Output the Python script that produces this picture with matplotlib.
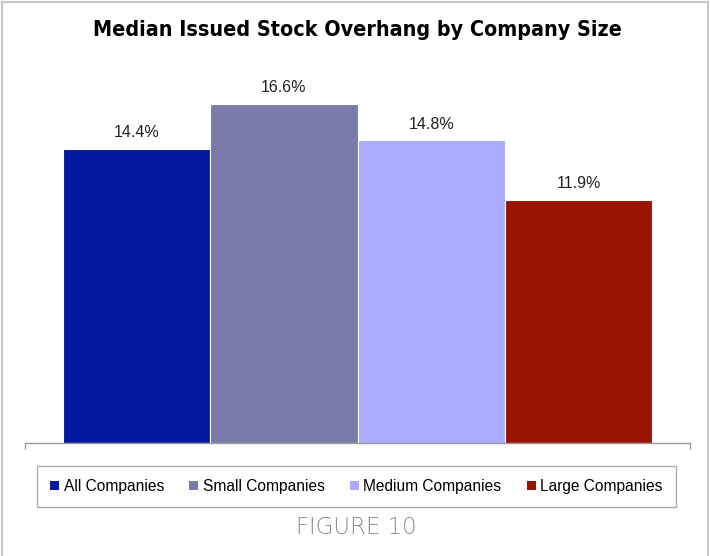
import matplotlib
matplotlib.use("Agg")
import matplotlib.pyplot as plt
from matplotlib.lines import Line2D
from matplotlib.patches import Patch

categories = ["All Companies", "Small Companies", "Medium Companies", "Large Companies"]
values = [14.4, 16.6, 14.8, 11.9]
labels = ["14.4%", "16.6%", "14.8%", "11.9%"]
colors = ["#031AA0", "#7B7BAB", "#AAAAFF", "#961400"]

fig = plt.figure(figsize=(7.1, 5.56), dpi=100)
ax = fig.add_axes([25 / 710, 1 - 443 / 556, 665 / 710, 368 / 556])

x = range(len(categories))
bars = ax.bar(x, values, width=1.0, color=colors, edgecolor="white", linewidth=0.8)
for xi, v, lab in zip(x, values, labels):
    ax.annotate(lab, (xi, v), xytext=(0, 6), textcoords="offset points",
                ha="center", va="bottom", fontsize=11.5, family="Liberation Sans",
                color="#222222")

ax.set_xlim(-0.755, 3.755)
ax.set_ylim(0, 18)
for s in ["top", "right", "left"]:
    ax.spines[s].set_visible(False)
ax.spines["bottom"].set_color("#999999")
ax.spines["bottom"].set_linewidth(1)
ax.set_yticks([])
ax.set_xticks([-0.755, 3.755])
ax.set_xticklabels([])
ax.tick_params(axis="x", length=4, color="#999999", width=1)

fig.text(357 / 710, 1 - 30 / 556, "Median Issued Stock Overhang by Company Size",
         ha="center", va="center", fontsize=15.4, fontweight="bold",
         fontstretch="condensed",
         family=["DejaVu Sans Condensed", "Liberation Sans Narrow", "DejaVu Sans"])

handles = [Patch(facecolor=c, edgecolor="none") for c in colors]
leg = fig.legend(handles, categories, loc="center", ncol=4,
                 bbox_to_anchor=(356.5 / 710, 1 - 486.5 / 556),
                 frameon=True, fancybox=False, edgecolor="#999999",
                 prop={"family": "Liberation Sans", "size": 11.2},
                 handlelength=0.55, handleheight=0.55, handletextpad=0.3,
                 columnspacing=1.65, borderpad=0.85)
leg.get_frame().set_linewidth(1)

fig.text(356 / 710, 1 - 527 / 556, "FIGURE 10", ha="center", va="center",
         fontsize=16.5, color="#8A8A8A", family="DejaVu Sans",
         fontweight="light")

# outer frame (top, left, right)
for xs, ys in [((2, 708), (554.5, 554.5)), ((2, 2), (0, 554.5)), ((708, 708), (0, 554.5))]:
    fig.add_artist(Line2D([v / 710 for v in xs], [v / 556 for v in ys],
                          transform=fig.transFigure, color="#C8C8C8", linewidth=1.5))

fig.savefig("out.png", dpi=100)
